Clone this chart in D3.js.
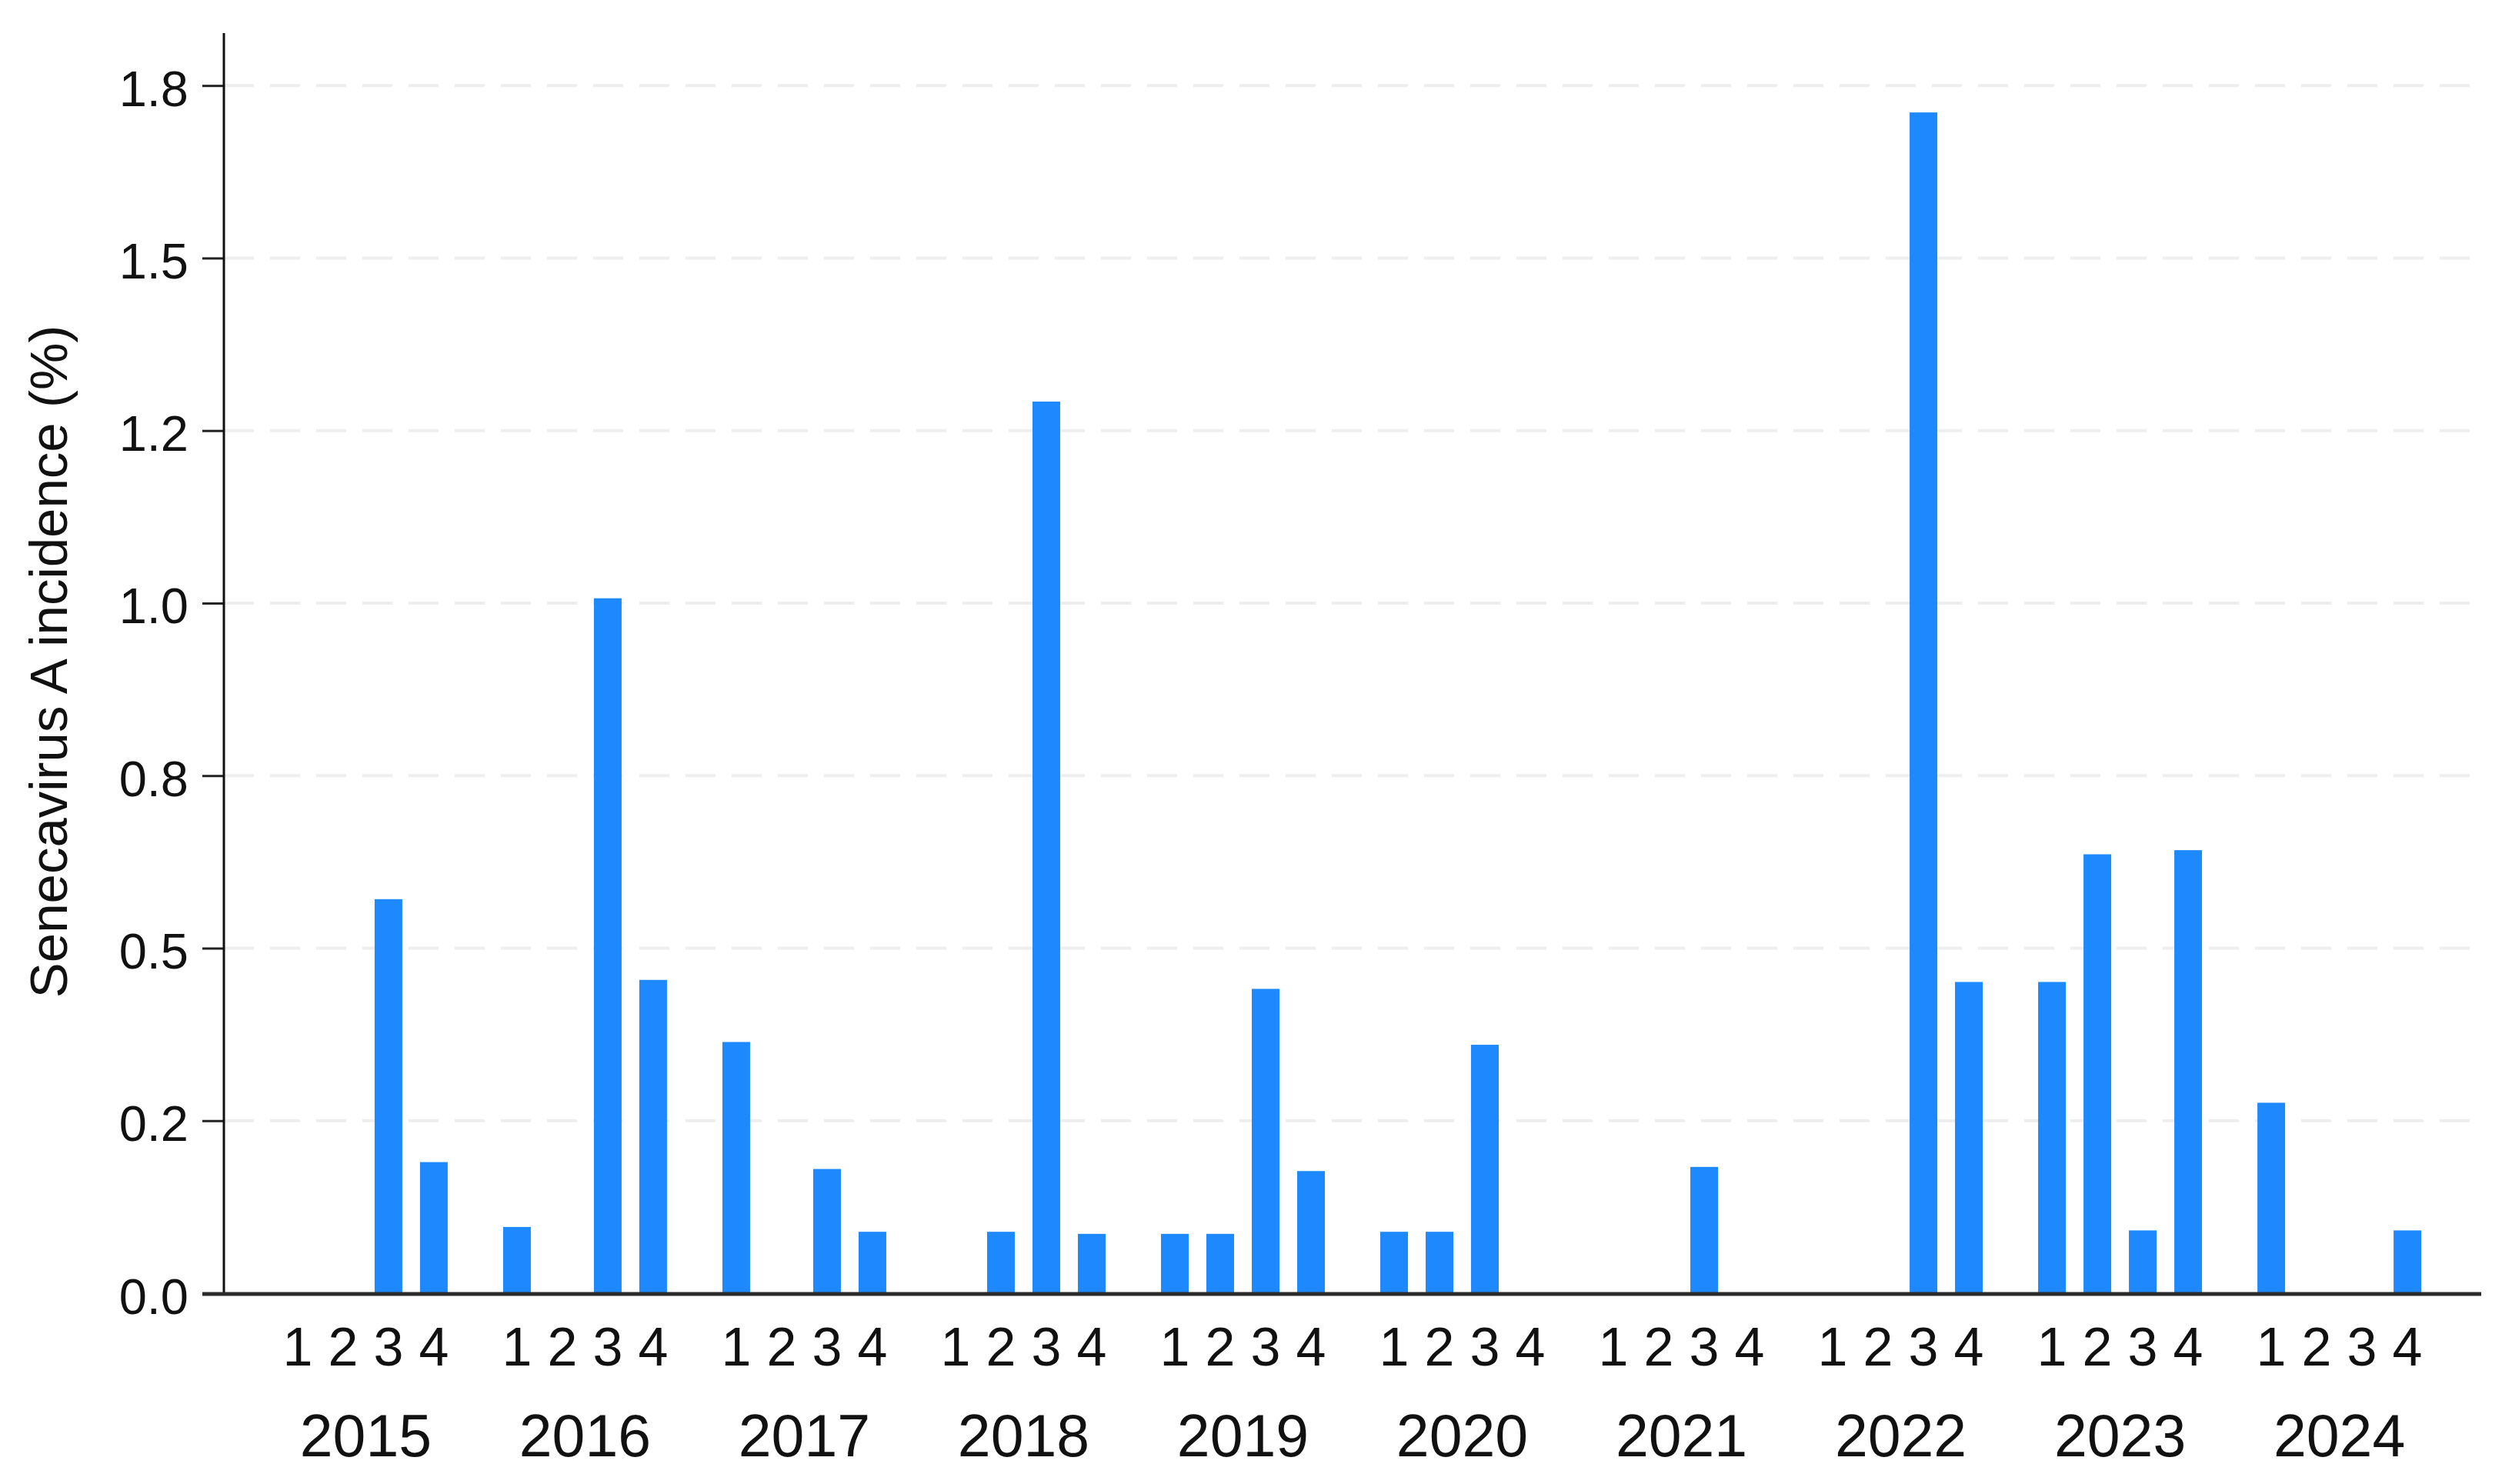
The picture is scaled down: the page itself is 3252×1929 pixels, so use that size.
<!DOCTYPE html>
<html>
<head>
<meta charset="utf-8">
<script src="https://cdn.jsdelivr.net/npm/d3@7"></script>
<style>
  html, body { margin: 0; padding: 0; background: #fff; }
  svg { display: block; font-family: "Liberation Sans", Arial, sans-serif; }
</style>
</head>
<body>
<svg id="chart" width="3252" height="1929"></svg>
<script>
// ---- data ----
const years = ["2015","2016","2017","2018","2019","2020","2021","2022","2023","2024"];
const quarters = ["1","2","3","4"];
const q1Values = [0, 0.096, 0.364, 0, 0.086, 0.089, 0, 0, 0.451, 0.276];
const q2Values = [0, 0, 0, 0.089, 0.086, 0.089, 0, 0, 0.636, 0];
const q3Values = [0.571, 1.007, 0.180, 1.292, 0.441, 0.360, 0.183, 1.711, 0.091, 0];
const q4Values = [0.190, 0.454, 0.089, 0.086, 0.177, 0, 0, 0.451, 0.642, 0.091];
const yTickValues = [0, 0.25, 0.5, 0.75, 1.0, 1.25, 1.5, 1.75];
const yTickLabels = ["0.0", "0.2", "0.5", "0.8", "1.0", "1.2", "1.5", "1.8"];
const yTitle = "Senecavirus A incidence (%)";

(function () {
  // ---- layout ----
  const mLeft = 291, mRight = 3225, mTop = 43, mBottom = 1681;
  const yMax = 1.826;
  const barColor = "#1e88ff";

  const svg = d3.select("#chart");

  const seriesByQuarter = [q1Values, q2Values, q3Values, q4Values];
  const rows = [];
  years.forEach((yr, i) => {
    quarters.forEach((q, j) => {
      rows.push({ year: yr, quarter: q, value: seriesByQuarter[j][i] });
    });
  });

  const x = d3.scaleBand().domain(years).range([mLeft, mRight])
    .paddingInner(0.172).paddingOuter(0.233);
  const xq = d3.scaleBand().domain(quarters).range([0, x.bandwidth()])
    .paddingInner(0.39).paddingOuter(0.195);
  const y = d3.scaleLinear().domain([0, yMax]).range([mBottom, mTop]);

  // gridlines
  svg.append("g").selectAll("line")
    .data(yTickValues.filter(v => v > 0))
    .join("line")
    .attr("x1", mLeft).attr("x2", mRight)
    .attr("y1", d => y(d)).attr("y2", d => y(d))
    .attr("stroke", "#eeeeee")
    .attr("stroke-width", 4)
    .attr("stroke-dasharray", "39,21");

  // bars
  svg.append("g").selectAll("rect")
    .data(rows.filter(d => d.value > 0))
    .join("rect")
    .attr("x", d => x(d.year) + xq(d.quarter))
    .attr("width", xq.bandwidth())
    .attr("y", d => y(d.value))
    .attr("height", d => y(0) - y(d.value))
    .attr("fill", barColor);

  // y axis
  const yAxis = d3.axisLeft(y)
    .tickValues(yTickValues)
    .tickFormat((d, i) => yTickLabels[i])
    .tickSize(28)
    .tickPadding(18);
  const gy = svg.append("g").attr("transform", `translate(${mLeft},0)`).call(yAxis);
  gy.select(".domain").remove();
  gy.selectAll(".tick line").attr("stroke", "#222").attr("stroke-width", 3);
  gy.selectAll(".tick text")
    .attr("font-size", 65)
    .attr("fill", "#111")
    .attr("dy", "0.40em");
  svg.append("line")
    .attr("x1", mLeft).attr("x2", mLeft)
    .attr("y1", mTop).attr("y2", mBottom)
    .attr("stroke", "#111").attr("stroke-width", 3);

  // x axis line
  svg.append("line")
    .attr("x1", mLeft - 28).attr("x2", mRight)
    .attr("y1", mBottom + 1).attr("y2", mBottom + 1)
    .attr("stroke", "#2a2a2a").attr("stroke-width", 5);

  // quarter labels
  svg.append("g").selectAll("text")
    .data(rows)
    .join("text")
    .attr("x", d => x(d.year) + xq(d.quarter) + xq.bandwidth() / 2)
    .attr("y", 1775)
    .attr("text-anchor", "middle")
    .attr("font-size", 70)
    .attr("fill", "#111")
    .text(d => d.quarter);

  // year labels
  svg.append("g").selectAll("text")
    .data(years)
    .join("text")
    .attr("x", d => x(d) + x.bandwidth() / 2)
    .attr("y", 1893)
    .attr("text-anchor", "middle")
    .attr("font-size", 77)
    .attr("fill", "#111")
    .text(d => d);

  // y title
  svg.append("text")
    .attr("transform", `translate(87, ${(mTop + mBottom) / 2 - 2}) rotate(-90)`)
    .attr("text-anchor", "middle")
    .attr("font-size", 69)
    .attr("fill", "#111")
    .text(yTitle);
})();
</script>
</body>
</html>
